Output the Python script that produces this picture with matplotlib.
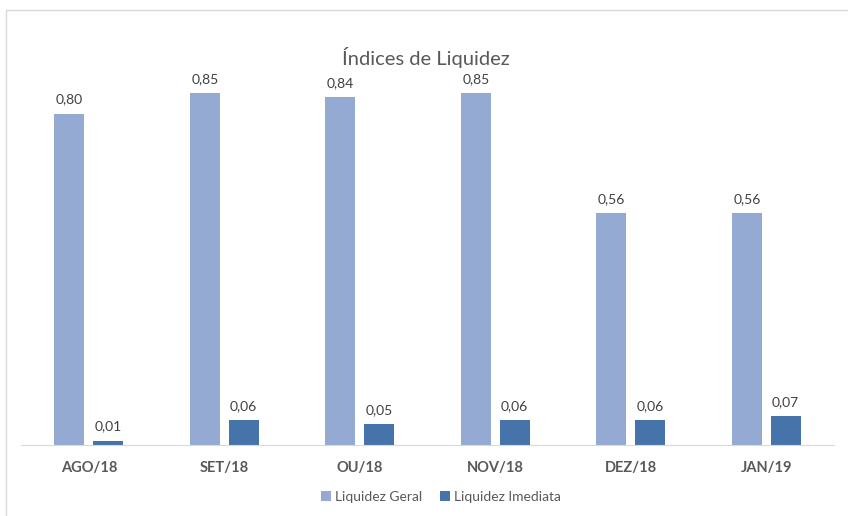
import numpy as np
import matplotlib
matplotlib.use("Agg")
import matplotlib.pyplot as plt
from matplotlib.patches import Rectangle

meses = ["AGO/18", "SET/18", "OU/18", "NOV/18", "DEZ/18", "JAN/19"]
liq_geral = [0.80, 0.85, 0.84, 0.85, 0.56, 0.56]
liq_imediata = [0.01, 0.06, 0.05, 0.06, 0.06, 0.07]

cor_geral = "#95AAD3"
cor_imediata = "#4673A9"

plt.rcParams["font.family"] = ["Lato", "DejaVu Sans"]

fig = plt.figure(figsize=(8.48, 5.16), dpi=100)
ax = fig.add_axes([0.0248, 0.1376, 0.9587, 0.7217])

x = np.arange(len(meses))
w = 0.22
b1 = ax.bar(x - 0.143, liq_geral, w, color=cor_geral, label="Liquidez Geral")
b2 = ax.bar(x + 0.143, liq_imediata, w, color=cor_imediata, label="Liquidez Imediata")

for bars, vals in [(b1, liq_geral), (b2, liq_imediata)]:
    for r, v in zip(bars, vals):
        ax.annotate(f"{v:.2f}".replace(".", ","), (r.get_x() + r.get_width() / 2, v),
                    xytext=(0, 6), textcoords="offset points", ha="center", va="bottom",
                    fontsize=10, color="#404040")

ax.set_xlim(-0.5, len(meses) - 0.5)
ax.set_ylim(0, 0.9)
ax.set_yticks([])
ax.set_xticks(x)
ax.set_xticklabels(meses, fontsize=10.5, fontweight="bold", color="#595959")
ax.tick_params(axis="x", length=0, pad=11.5)
for s in ["top", "right", "left"]:
    ax.spines[s].set_visible(False)
ax.spines["bottom"].set_color("#D9D9D9")

fig.text(0.502, 0.889, "Índices de Liquidez", ha="center", va="center",
         fontsize=14.5, color="#595959")

leg = fig.legend(handles=[b1, b2], loc="center", bbox_to_anchor=(0.52, 0.037), ncol=2,
                 frameon=False, fontsize=10, handlelength=0.7, handleheight=0.7,
                 handletextpad=0.3, columnspacing=1.3)
for t in leg.get_texts():
    t.set_color("#595959")

# moldura do gráfico
fig.patches.append(Rectangle((6 / 848, -0.05), 1.0, 1 - 10 / 516 + 0.05,
                             transform=fig.transFigure, fill=False,
                             edgecolor="#D9D9D9", linewidth=1))

fig.savefig("out.png", dpi=100)
